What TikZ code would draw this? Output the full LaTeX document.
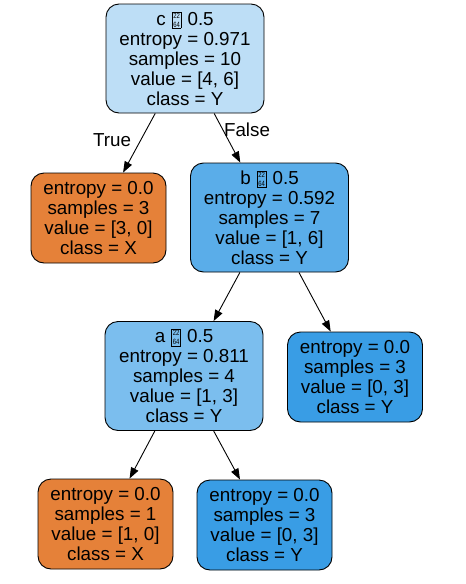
\documentclass[tikz,border=0pt]{standalone}
\usepackage{fontspec}
\usepackage{graphicx}
\setmainfont{Liberation Sans}
\usetikzlibrary{arrows.meta}
\definecolor{blueA}{HTML}{BDDEF6}
\definecolor{blueB}{HTML}{5AADE9}
\definecolor{blueC}{HTML}{7BBEEE}
\definecolor{blueY}{HTML}{399DE5}
\definecolor{orangeX}{HTML}{E58139}
\newcommand\tofubox{\hspace{1pt}\raisebox{-2.2pt}{\setlength\fboxsep{0.8pt}\setlength\fboxrule{0.6pt}\fbox{\scalebox{0.78}[1]{\fontsize{7.6}{8}\selectfont\shortstack{22\\[0.6pt]64}}}}\hspace{1pt}}
\tikzset{
  treenode/.style={draw=black, line width=0.9pt, rounded corners=13pt, align=center,
    font=\fontsize{18.8}{20}\selectfont, inner sep=0pt},
  splitnode/.style={treenode, minimum width=158pt, minimum height=109pt},
  leafnode/.style={treenode, minimum width=135pt, minimum height=90pt},
  edge/.style={draw=black, line width=0.9pt, -{Triangle[length=11pt,width=8pt]}},
  edgelabel/.style={font=\fontsize{18.8}{20}\selectfont, inner sep=0pt}
}
\begin{document}
\begin{tikzpicture}[x=1pt,y=-1pt]
\useasboundingbox (0,0) rectangle (466,584);
\node[splitnode, fill=blueA] (root) at (185,58.5) {c \tofubox\ 0.5\\entropy = 0.971\\samples = 10\\value = [4, 6]\\class = Y};
\node[leafnode, fill=orangeX] (l1) at (98.5,218) {entropy = 0.0\\samples = 3\\value = [3, 0]\\class = X};
\node[splitnode, fill=blueB] (b) at (269.5,217.5) {b \tofubox\ 0.5\\entropy = 0.592\\samples = 7\\value = [1, 6]\\class = Y};
\node[splitnode, fill=blueC] (a) at (184,376) {a \tofubox\ 0.5\\entropy = 0.811\\samples = 4\\value = [1, 3]\\class = Y};
\node[leafnode, fill=blueY] (r2) at (355,377) {entropy = 0.0\\samples = 3\\value = [0, 3]\\class = Y};
\node[leafnode, fill=orangeX] (l3) at (105.5,524) {entropy = 0.0\\samples = 1\\value = [1, 0]\\class = X};
\node[leafnode, fill=blueY] (r3) at (264.5,525) {entropy = 0.0\\samples = 3\\value = [0, 3]\\class = Y};
\draw[edge] (root) -- (l1);
\draw[edge] (root) -- (b);
\draw[edge] (b) -- (a);
\draw[edge] (b) -- (r2);
\draw[edge] (a) -- (l3);
\draw[edge] (a) -- (r3);
\node[edgelabel] (t) at (112,140) {True};
\node[edgelabel] (f) at (247,130) {False};
\end{tikzpicture}
\end{document}
